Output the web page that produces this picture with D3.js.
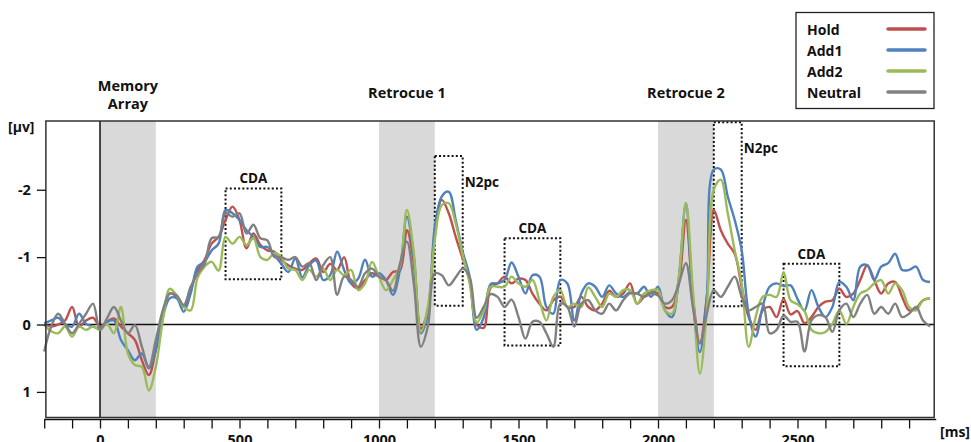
<!DOCTYPE html>
<html>
<head>
<meta charset="utf-8">
<script src="https://cdnjs.cloudflare.com/ajax/libs/d3/7.8.5/d3.min.js"></script>
<style>
  body { margin: 0; background: #fff; }
  svg text { font-family: "Open Sans", "Noto Sans", sans-serif; font-weight: 700; fill: #111; }
</style>
</head>
<body>
<svg id="erp" width="971" height="442"></svg>
<script>
// time points (ms), one every 25 ms
var times = d3.range(-200, 3000, 25);

var hold = [
  0.0, 0.03, 0.0, -0.06, -0.26, 0.03, -0.06, -0.1,
  0.03, -0.04, -0.09, 0.03, 0.13, 0.23, 0.53, 0.75,
  0.38, -0.16, -0.46, -0.41, -0.26, -0.51, -0.8, -0.96,
  -1.2, -1.3, -1.55, -1.75, -1.55, -1.13, -1.35, -1.18,
  -1.1, -1.08, -0.96, -0.88, -0.83, -0.81, -0.91, -0.98,
  -0.78, -0.9, -0.81, -1.0, -0.61, -0.54, -0.66, -0.76,
  -0.71, -0.66, -0.78, -0.8, -1.4, -0.9, 0.06, -0.21,
  -1.35, -1.85, -1.65, -1.3, -0.98, -0.66, 0.0, 0.05,
  -0.55, -0.61, -0.71, -0.61, -0.68, -0.66, -0.46, -0.31,
  -0.21, -0.36, -0.41, -0.26, -0.26, -0.41, -0.26, -0.21,
  -0.31, -0.5, -0.41, -0.46, -0.61, -0.31, -0.41, -0.48,
  -0.46, -0.26, -0.26, -0.61, -1.55, -0.41, 0.28, -0.41,
  -1.7, -1.4, -1.2, -1.05, -0.56, -0.11, 0.08, -0.21,
  -0.26, -0.11, -0.38, -0.15, -0.2, -0.02, -0.11, -0.26,
  -0.34, -0.36, -0.53, -0.41, -0.46, -0.66, -0.88, -0.66,
  -0.46, -0.61, -0.63, -0.41, -0.21, -0.24, -0.36, -0.39
];
var add1 = [
  -0.02, -0.06, -0.1, 0.0, 0.03, -0.16, -0.01, 0.03,
  0.06, -0.04, -0.06, 0.23, 0.38, 0.53, 0.43, 0.65,
  0.38, -0.11, -0.39, -0.39, -0.19, -0.46, -0.86, -0.93,
  -1.1, -1.2, -1.7, -1.65, -1.55, -1.4, -1.3, -1.15,
  -1.15, -1.03, -0.9, -0.78, -0.98, -0.7, -0.88, -0.95,
  -0.66, -0.73, -1.08, -0.81, -0.61, -0.68, -0.96, -0.71,
  -0.76, -0.66, -0.44, -0.81, -1.6, -1.0, 0.13, -0.16,
  -1.45, -1.9, -1.97, -1.55, -1.08, -0.71, 0.08, -0.1,
  -0.6, -0.61, -0.66, -0.92, -0.71, -0.46, -0.73, -0.71,
  -0.26, -0.16, -0.66, -0.61, -0.06, -0.46, -0.61, -0.56,
  -0.41, -0.58, -0.46, -0.41, -0.48, -0.46, -0.56, -0.41,
  -0.56, -0.21, -0.11, -0.71, -1.8, -0.36, 0.41, -0.41,
  -2.3, -2.3, -1.9, -1.55, -1.1, -0.16, 0.18, -0.26,
  -0.56, -0.61, -0.57, -0.58, -0.38, -0.21, -0.51, -0.26,
  -0.11, -0.26, -0.63, -0.56, -0.36, -0.86, -0.88, -0.66,
  -0.86, -0.91, -1.05, -0.81, -0.81, -0.86, -0.66, -0.63
];
var add2 = [
  0.0, 0.1, 0.13, 0.03, 0.18, 0.03, 0.08, 0.03,
  0.08, -0.01, 0.13, -0.26, 0.43, 0.6, 0.63, 0.98,
  0.63, -0.06, -0.53, -0.43, -0.26, -0.21, -0.7, -0.86,
  -0.93, -0.8, -1.3, -1.2, -1.3, -1.18, -1.28, -1.0,
  -0.96, -1.06, -1.0, -0.83, -0.81, -0.66, -0.81, -0.71,
  -0.83, -0.66, -0.81, -0.73, -0.81, -0.51, -0.61, -0.93,
  -0.71, -0.51, -0.66, -0.86, -1.7, -1.05, 0.11, -0.26,
  -1.25, -1.77, -1.8, -1.5, -1.03, -0.61, -0.03, -0.2,
  -0.56, -0.56, -0.56, -0.71, -0.61, -0.56, -0.66, -0.36,
  -0.06, -0.41, -0.51, -0.26, -0.31, -0.26, -0.55, -0.41,
  -0.26, -0.46, -0.41, -0.51, -0.51, -0.31, -0.46, -0.51,
  -0.51, -0.21, -0.16, -0.71, -1.8, -0.51, 0.73, -0.21,
  -2.0, -2.15, -1.65, -1.1, -0.61, 0.33, -0.11, -0.41,
  -0.44, -0.41, -0.77, -0.36, -0.3, -0.2, 0.08, 0.13,
  0.11, -0.01, -0.21, -0.01, -0.26, -0.46, -0.51, -0.61,
  -0.66, -0.46, -0.61, -0.51, -0.26, -0.21, -0.36, -0.39
];
var neutral = [
  0.4, 0.03, -0.16, -0.01, 0.13, -0.01, -0.16, -0.31,
  0.08, -0.09, -0.26, -0.06, 0.13, 0.01, 0.33, 0.63,
  0.23, -0.21, -0.46, -0.43, -0.29, -0.56, -0.76, -0.9,
  -1.28, -1.3, -1.65, -1.6, -1.65, -1.35, -1.48, -1.28,
  -1.25, -1.0, -1.0, -0.96, -1.0, -0.86, -0.91, -0.66,
  -0.88, -1.0, -0.44, -0.71, -0.66, -0.56, -0.76, -0.83,
  -0.71, -0.66, -0.5, -0.9, -1.23, -0.6, 0.33, 0.03,
  -0.76, -0.73, -0.58, -0.7, -0.83, -0.7, -0.1, -0.26,
  -0.45, -0.41, -0.26, -0.37, -0.11, 0.21, -0.04, -0.04,
  0.13, 0.33, -0.31, -0.26, 0.03, -0.31, -0.36, -0.21,
  -0.16, -0.31, -0.21, -0.36, -0.46, -0.46, -0.41, -0.46,
  -0.43, -0.31, -0.36, -0.61, -0.91, -0.26, 0.28, -0.16,
  -0.51, -0.41, -0.56, -0.71, -0.41, -0.21, -0.26, -0.31,
  0.13, 0.08, -0.13, -0.04, -0.04, 0.4, -0.06, -0.14,
  -0.11, 0.11, -0.21, -0.31, -0.11, -0.31, -0.44, -0.16,
  -0.26, -0.16, -0.31, -0.11, -0.16, -0.26, -0.06, 0.03
];

var seriesNames = ["Hold", "Add1", "Add2", "Neutral"];
var seriesColors = ["#c0504d", "#4f81bd", "#9bbb59", "#808080"];
var seriesValues = [hold, add1, add2, neutral];

// stimulus periods (grey bands) and their titles
var events = [
  {start: 0, end: 200, title: ["Memory", "Array"]},
  {start: 1000, end: 1200, title: ["Retrocue 1"]},
  {start: 2000, end: 2200, title: ["Retrocue 2"]}
];

// dotted analysis windows: [from ms, to ms, top µV, bottom µV]
var windowLabels = ["CDA", "N2pc", "CDA", "N2pc", "CDA"];
var windowTimes = [[450, 650], [1200, 1300], [1450, 1650], [2200, 2300], [2450, 2650]];
var windowVolts = [[-2.02, -0.67], [-2.5, -0.28], [-1.28, 0.31], [-3.0, -0.27], [-0.9, 0.62]];

var xTicks = d3.range(-200, 3000, 100);
var xLabels = [0, 500, 1000, 1500, 2000, 2500];
var yTicks = [-2, -1, 0, 1];

var svg = d3.select("#erp");

var x = d3.scaleLinear().domain([-200, 3000]).range([44.2, 937]);
// negative up, as usual for ERP plots
var y = d3.scaleLinear().domain([-3.02, 1.38]).range([121, 417.5]);

var plotLeft = x(-194), plotRight = x(2990), plotTop = y(-3.02), plotBottom = y(1.38);

// grey bands
svg.selectAll(".band")
    .data(events)
    .enter().append("rect")
    .attr("class", "band")
    .attr("x", function(d) { return x(d.start); })
    .attr("y", plotTop)
    .attr("width", function(d) { return x(d.end) - x(d.start); })
    .attr("height", plotBottom - plotTop)
    .attr("fill", "#d9d9d9");

// titles above the bands
events.forEach(function(d) {
  var t = svg.append("text")
      .attr("text-anchor", "middle")
      .attr("font-size", 14.5)
      .attr("x", x((d.start + d.end) / 2))
      .attr("y", d.title.length > 1 ? 91 : 98);
  d.title.forEach(function(line, i) {
    t.append("tspan")
        .attr("x", x((d.start + d.end) / 2))
        .attr("dy", i === 0 ? 0 : 18)
        .text(line);
  });
});

// zero lines
svg.append("line")
    .attr("x1", plotLeft).attr("x2", plotRight)
    .attr("y1", y(0)).attr("y2", y(0))
    .attr("stroke", "#111").attr("stroke-width", 1.5);
svg.append("line")
    .attr("x1", x(0)).attr("x2", x(0))
    .attr("y1", plotTop).attr("y2", plotBottom)
    .attr("stroke", "#111").attr("stroke-width", 1.5);

// dotted windows
var win = svg.selectAll(".win")
    .data(windowLabels)
    .enter().append("g")
    .attr("class", "win");

win.append("rect")
    .attr("x", function(d, i) { return x(windowTimes[i][0]); })
    .attr("y", function(d, i) { return y(windowVolts[i][0]); })
    .attr("width", function(d, i) { return x(windowTimes[i][1]) - x(windowTimes[i][0]); })
    .attr("height", function(d, i) { return y(windowVolts[i][1]) - y(windowVolts[i][0]); })
    .attr("fill", "none")
    .attr("stroke", "#111")
    .attr("stroke-width", 2)
    .attr("stroke-dasharray", "2,2.2");

win.append("text")
    .attr("font-size", 13.5)
    .attr("text-anchor", function(d) { return d === "CDA" ? "middle" : "start"; })
    .attr("x", function(d, i) {
      return d === "CDA" ? x((windowTimes[i][0] + windowTimes[i][1]) / 2) : x(windowTimes[i][1]) + 2;
    })
    .attr("y", function(d, i) {
      return d === "CDA" ? y(windowVolts[i][0]) - 5 : y(windowVolts[i][0]) + 31;
    })
    .text(function(d) { return d; });

// ERP curves
var line = d3.line()
    .x(function(d, i) { return x(times[i]); })
    .y(function(d) { return y(d); })
    .curve(d3.curveCatmullRom.alpha(0.5));

svg.selectAll(".erp")
    .data(seriesValues)
    .enter().append("path")
    .attr("class", "erp")
    .attr("d", line)
    .attr("fill", "none")
    .attr("stroke", function(d, i) { return seriesColors[i]; })
    .attr("stroke-width", 2.4)
    .attr("stroke-linejoin", "round");

// frame
svg.append("rect")
    .attr("x", plotLeft).attr("y", plotTop)
    .attr("width", plotRight - plotLeft).attr("height", plotBottom - plotTop)
    .attr("fill", "none")
    .attr("stroke", "#333")
    .attr("stroke-width", 1.5);

// y axis
svg.append("g")
    .attr("transform", "translate(" + plotLeft + ",0)")
    .call(d3.axisLeft(y).tickValues(yTicks).tickSize(9).tickPadding(6)
        .tickFormat(function(d) { return String(d); }))
    .call(function(g) {
      g.select(".domain").remove();
      g.selectAll(".tick line").attr("stroke", "#111").attr("stroke-width", 1.3);
      g.selectAll(".tick text").attr("font-size", 14.5).attr("font-family", null).attr("fill", "#111");
    });

svg.append("text")
    .attr("x", 8).attr("y", 132)
    .attr("font-size", 14)
    .text("[µv]");

// x axis
var xAxis = svg.append("g")
    .attr("transform", "translate(0," + (plotBottom + 2) + ")")
    .call(d3.axisBottom(x).tickValues(xTicks).tickSize(9).tickSizeOuter(0).tickPadding(6)
        .tickFormat(function(d) { return xLabels.indexOf(d) >= 0 ? String(d) : ""; }));
xAxis.select(".domain")
    .attr("d", "M" + x(-200) + ",0H" + (plotRight + 2))
    .attr("stroke", "#111").attr("stroke-width", 1.5);
xAxis.selectAll(".tick line").attr("stroke", "#111").attr("stroke-width", 1.3);
xAxis.selectAll(".tick text").attr("font-size", 14.5).attr("font-family", null).attr("fill", "#111");

svg.append("text")
    .attr("x", 940).attr("y", 437)
    .attr("font-size", 14)
    .text("[ms]");

// legend
var legend = svg.append("g");
legend.append("rect")
    .attr("x", 796).attr("y", 12.5)
    .attr("width", 138).attr("height", 96)
    .attr("fill", "#fff")
    .attr("stroke", "#222")
    .attr("stroke-width", 1.3);

var item = legend.selectAll(".item")
    .data(seriesNames)
    .enter().append("g")
    .attr("class", "item")
    .attr("transform", function(d, i) { return "translate(0," + (35 + i * 21) + ")"; });

item.append("text")
    .attr("x", 807)
    .attr("font-size", 14)
    .text(function(d) { return d; });

item.append("line")
    .attr("x1", 888).attr("x2", 925)
    .attr("y1", -6).attr("y2", -6)
    .attr("stroke", function(d, i) { return seriesColors[i]; })
    .attr("stroke-width", 3.5)
    .attr("stroke-linecap", "round");
</script>
</body>
</html>
